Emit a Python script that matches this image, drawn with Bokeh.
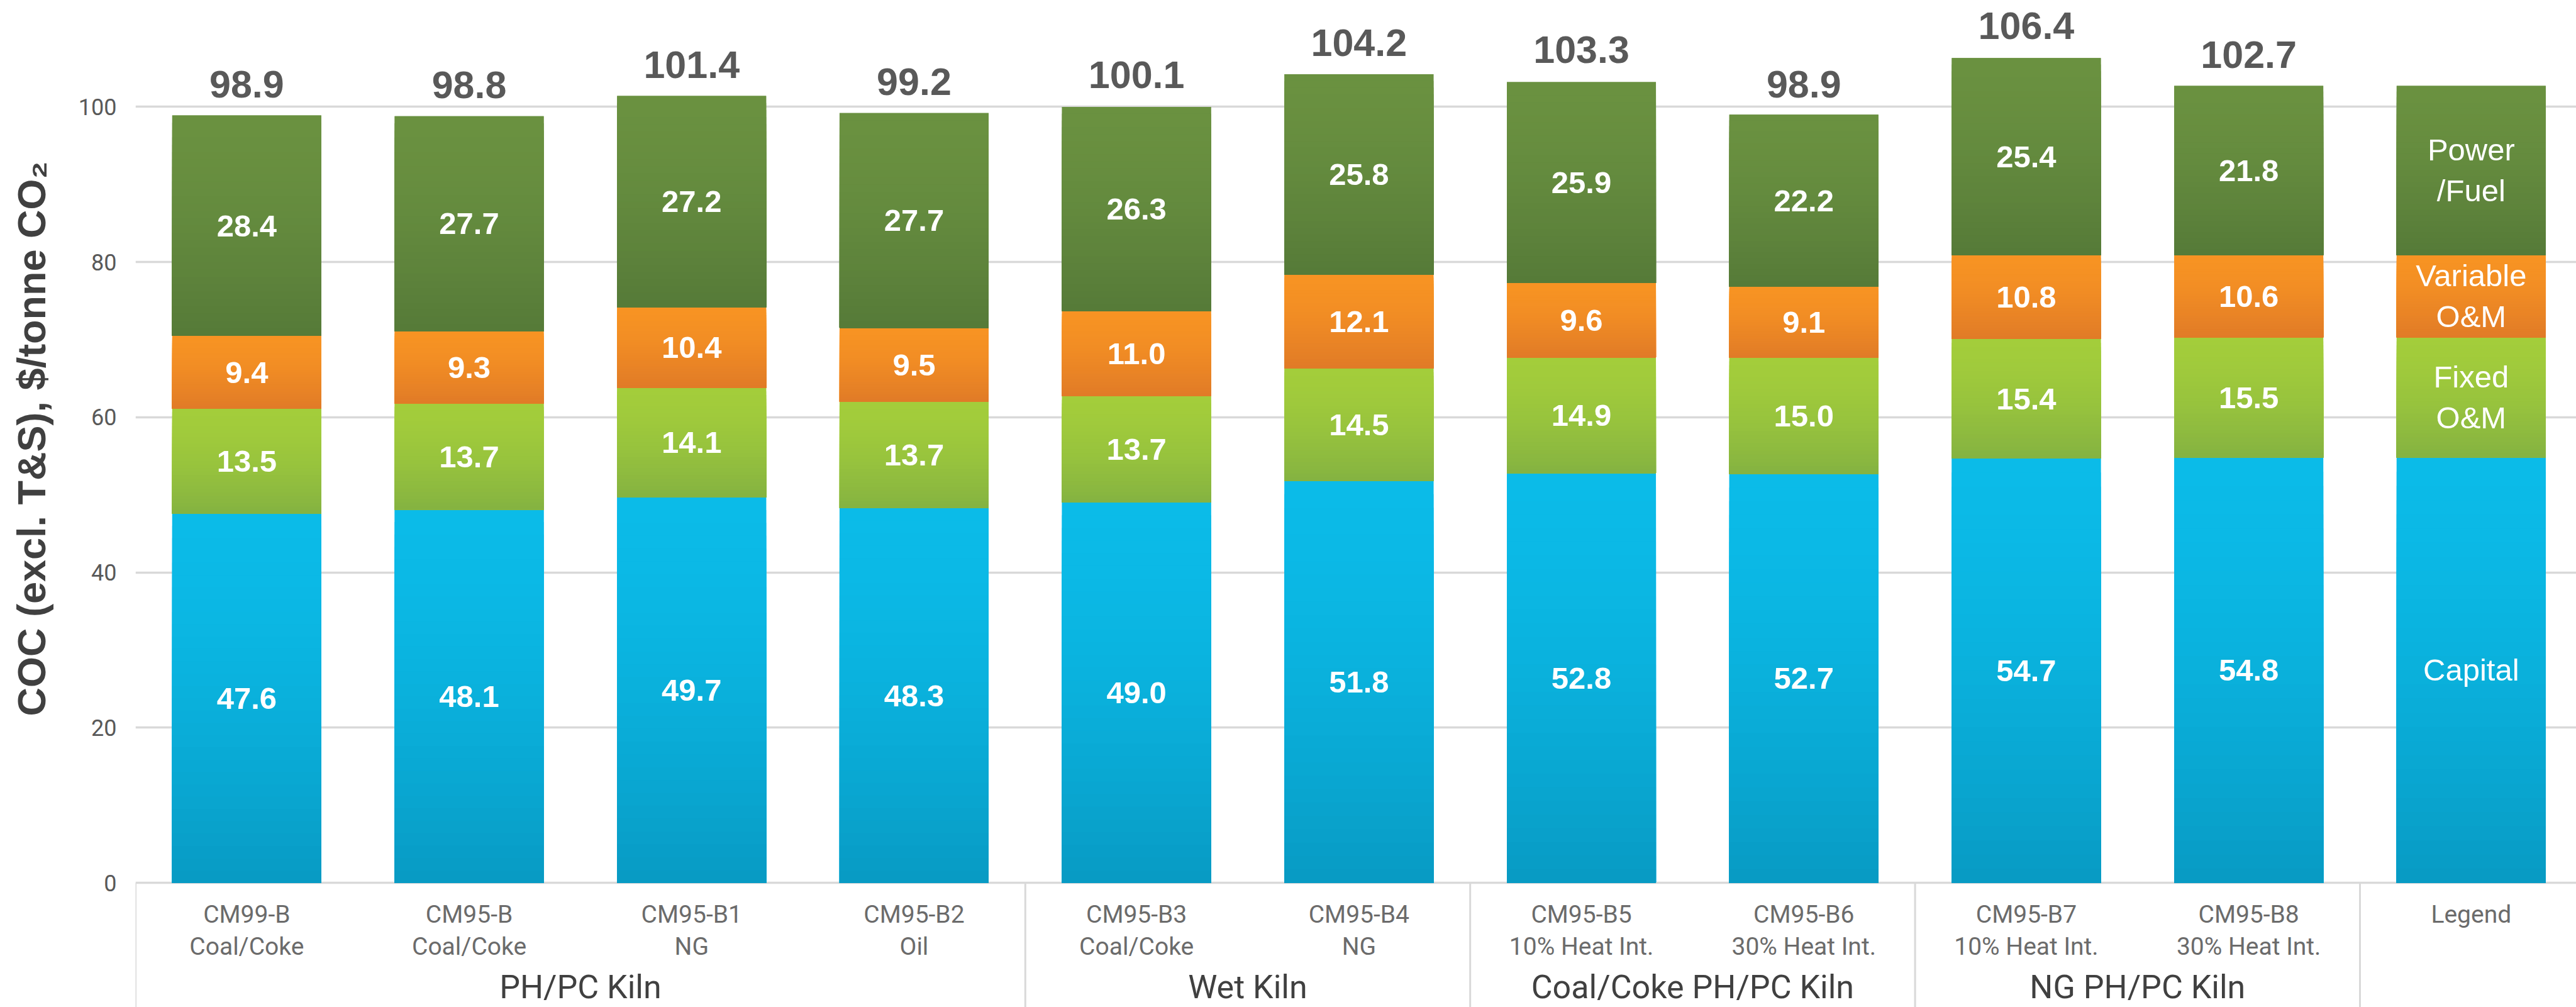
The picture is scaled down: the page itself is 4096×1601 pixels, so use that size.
import math
from bokeh.plotting import figure
from bokeh.models import Range1d, FixedTicker, ColumnDataSource, Title
from bokeh.core.properties import value
from bokeh.embed import file_html
from bokeh.resources import INLINE

# ---------------- data ----------------
cases = ["CM99-B", "CM95-B", "CM95-B1", "CM95-B2", "CM95-B3", "CM95-B4",
         "CM95-B5", "CM95-B6", "CM95-B7", "CM95-B8", "Legend"]
fuels = ["Coal/Coke", "Coal/Coke", "NG", "Oil", "Coal/Coke", "NG",
         "10% Heat Int.", "30% Heat Int.", "10% Heat Int.", "30% Heat Int.", ""]
groups = ["PH/PC Kiln", "Wet Kiln", "Coal/Coke PH/PC Kiln", "NG PH/PC Kiln", ""]
group_sizes = [4, 2, 2, 2, 1]

capital = [47.6, 48.1, 49.7, 48.3, 49.0, 51.8, 52.8, 52.7, 54.7, 54.8, 54.8]
fixed_om = [13.5, 13.7, 14.1, 13.7, 13.7, 14.5, 14.9, 15.0, 15.4, 15.5, 15.5]
variable_om = [9.4, 9.3, 10.4, 9.5, 11.0, 12.1, 9.6, 9.1, 10.8, 10.6, 10.6]
power_fuel = [28.4, 27.7, 27.2, 27.7, 26.3, 25.8, 25.9, 22.2, 25.4, 21.8, 21.8]
totals = [98.9, 98.8, 101.4, 99.2, 100.1, 104.2, 103.3, 98.9, 106.4, 102.7]

y_ticks = [0, 20, 40, 60, 80, 100]
series_names = ["Capital", "Fixed O&M", "Variable O&M", "Power/Fuel"]
legend_lines = [["Capital"], ["Fixed", "O&M"], ["Variable", "O&M"], ["Power", "/Fuel"]]
y_title = "COC (excl. T&S), $/tonne CO\u2082"

# ---------------- style ----------------
S = 4096 / 4389
top_colors = [(11, 187, 232), (163, 205, 59), (247, 147, 35), (106, 145, 64)]
bot_colors = [(8, 154, 195), (132, 178, 65), (224, 122, 39), (85, 122, 56)]
N_SLICES = 30
BAR_W = 0.67
W, H = 4096, 1601
LEFT = 215
slot_px = 379 * S
x_start = -0.5
x_end = x_start + (W - LEFT) / slot_px
px_per_unit = 13.22 * S
y_end = 113.73
y_start = y_end - H / px_per_unit
BL = 0.36  # empirical baseline correction (em)

def hexc(c):
    return "#%02x%02x%02x" % tuple(int(round(v)) for v in c)

p = figure(width=W, height=H, output_backend="svg", toolbar_location=None,
           x_range=Range1d(x_start, x_end), y_range=Range1d(y_start, y_end),
           x_axis_location=None, min_border_left=LEFT, min_border_right=0,
           min_border_top=0, min_border_bottom=0)
p.outline_line_color = None
p.background_fill_color = "white"
p.border_fill_color = "white"
p.xgrid.grid_line_color = None
p.ygrid.grid_line_color = "#d9d9d9"
p.ygrid.grid_line_width = 3.7
p.yaxis.ticker = FixedTicker(ticks=y_ticks)
p.yaxis.axis_line_color = None
p.yaxis.major_tick_line_color = None
p.yaxis.minor_tick_line_color = None
p.yaxis.major_label_standoff = 24
p.yaxis.major_label_text_font = "Roboto"
p.yaxis.major_label_text_font_size = "36px"
p.yaxis.major_label_text_color = "#595959"
# invisible spacer label: pushes the title panel outward
p.yaxis.axis_label = " "
p.yaxis.axis_label_text_font_size = "2px"
p.yaxis.axis_label_standoff = 32

p.add_layout(Title(text=y_title, align="left", offset=463, standoff=0,
                   text_font="Liberation Sans", text_font_style="bold",
                   text_font_size="63px", text_color="#404040"), "left")

xs = list(range(len(cases)))
series = [capital, fixed_om, variable_om, power_fuel]

# base stacked bars
bottoms = [0.0] * len(xs)
seg_info = []
for si, vals in enumerate(series):
    tops = [b + v for b, v in zip(bottoms, vals)]
    src = ColumnDataSource(dict(x=xs, bottom=bottoms, top=tops))
    p.vbar(x="x", width=BAR_W, bottom="bottom", top="top", source=src,
           fill_color=hexc(top_colors[si]), line_color=None)
    seg_info.append((list(bottoms), tops, vals))
    bottoms = tops

# gradient shading, overlapping slices from the segment bottom upward
gx, gb, gt, gc = [], [], [], []
for si, (bots, tops, vals) in enumerate(seg_info):
    for i in xs:
        h = tops[i] - bots[i]
        for k in range(N_SLICES):
            t = ((k + 0.5) / N_SLICES) ** 1.6
            c = [a + (b - a) * t for a, b in zip(top_colors[si], bot_colors[si])]
            gx.append(i)
            gb.append(bots[i])
            gt.append(tops[i] - h * k / N_SLICES)
            gc.append(hexc(c))
p.vbar(x="x", width=BAR_W, bottom="bottom", top="top", fill_color="color",
       line_color=None, source=ColumnDataSource(dict(x=gx, bottom=gb, top=gt, color=gc)))

# segment values
SEG_FS = 49
lx, ly, lt = [], [], []
for bots, tops, vals in seg_info:
    for i in range(len(totals)):
        lx.append(i)
        ly.append((bots[i] + tops[i]) / 2)
        lt.append("%.1f" % vals[i])
p.text(x=lx, y=ly, text=lt, text_align="center", text_baseline="alphabetic",
       y_offset=18 - BL * SEG_FS, text_font=value("Liberation Sans"), text_font_style="bold",
       text_font_size="%dpx" % SEG_FS, text_color="white")

# legend bar labels
leg = len(cases) - 1
LEG_FS = 49
cap_h = 0.716 * LEG_FS
line_h = 65
for si, lines in enumerate(legend_lines):
    bots, tops, vals = seg_info[si]
    cy = (bots[leg] + tops[leg]) / 2
    n = len(lines)
    for k, ln in enumerate(lines):
        off = (k - (n - 1) / 2) * line_h + cap_h / 2 - BL * LEG_FS
        p.text(x=[leg], y=[cy], text=[ln], text_align="center",
               text_baseline="alphabetic", y_offset=off,
               text_font=value("Liberation Sans"), text_font_size="%dpx" % LEG_FS,
               text_color="white")

# totals
TOT_FS = 61
p.text(x=list(range(len(totals))), y=totals, text=["%.1f" % t for t in totals],
       text_align="center", text_baseline="alphabetic", y_offset=-28 - BL * TOT_FS,
       text_font=value("Liberation Sans"), text_font_style="bold",
       text_font_size="%dpx" % TOT_FS, text_color="#595959")

# category labels (two lines)
CAT_FS = 39
p.text(x=xs, y=[0] * len(xs), text=cases, text_align="center",
       text_baseline="alphabetic", y_offset=64 - BL * CAT_FS, text_font=value("Roboto"),
       text_font_size="%dpx" % CAT_FS, text_color="#6b6b6b")
p.text(x=xs, y=[0] * len(xs), text=fuels, text_align="center",
       text_baseline="alphabetic", y_offset=115 - BL * CAT_FS, text_font=value("Roboto"),
       text_font_size="%dpx" % CAT_FS, text_color="#6b6b6b")

# group labels and separators
GRP_FS = 52
bounds = [x_start]
for gs in group_sizes:
    bounds.append(bounds[-1] + gs)
centers = [(a + b) / 2 for a, b in zip(bounds[:-1], bounds[1:])]
p.text(x=centers, y=[0] * len(centers), text=groups, text_align="center",
       text_baseline="alphabetic", y_offset=185 - BL * GRP_FS, text_font=value("Roboto"),
       text_font_size="%dpx" % GRP_FS, text_color="#404040")
sep_x = bounds[:-1]
p.segment(x0=sep_x, y0=[0] * len(sep_x), x1=sep_x, y1=[y_start - 5] * len(sep_x),
          line_color="#d9d9d9", line_width=3)

open("out.html", "w").write(file_html(p, INLINE))
